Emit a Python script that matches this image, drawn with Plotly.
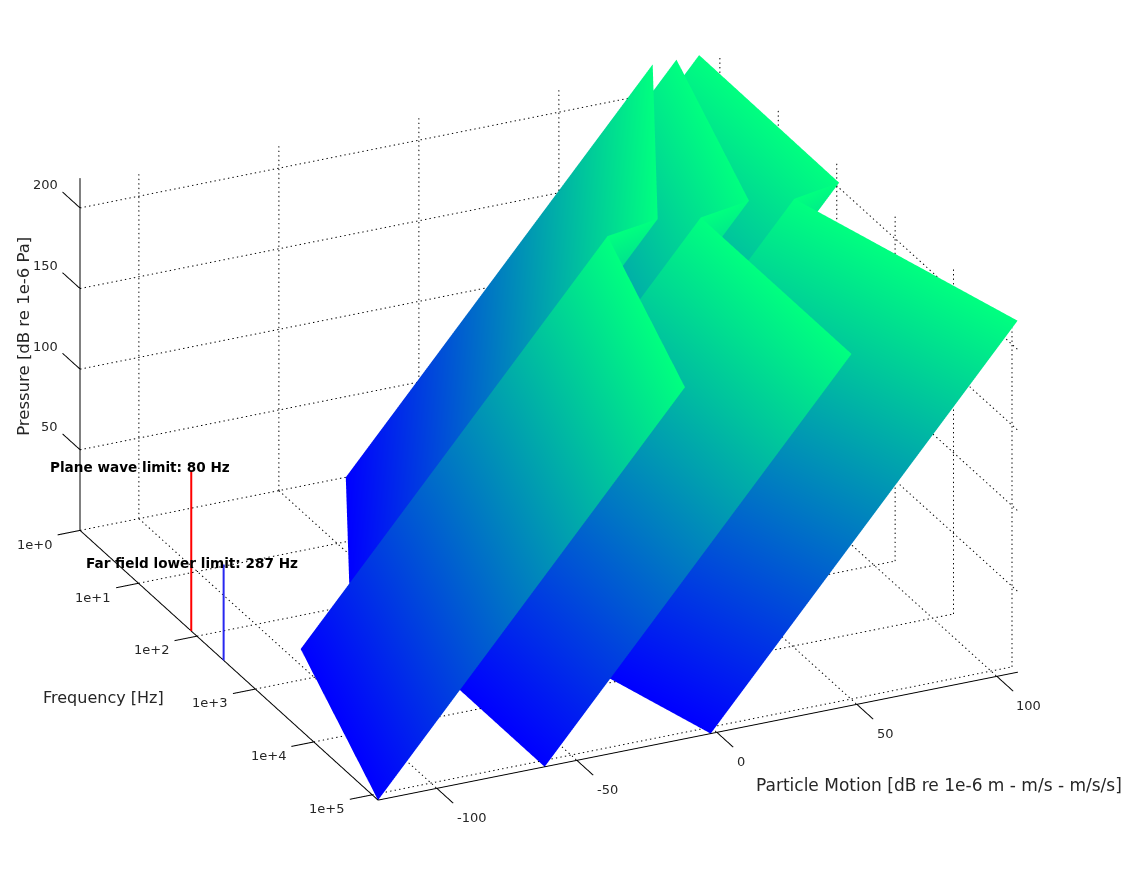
import plotly.graph_objects as go

# log10(frequency) knots of every surface
freq_log = [5.1, 2.52, 2.41, 0.0]
# particle-motion level at the low-pressure edge of each surface
disp_low = [-121.0, -94.8, -74.6, -26.1]
vel_low = [-61.5, -61.5, -42.0, -17.6]
acc_low = [-2.2, -28.1, -9.8, -9.5]
motion_span = 109.6
pressure_edge = [0.0, 218.0]

x_ticks = [-100, -50, 0, 50, 100]
x_tick_text = ["-100", "-50", "0", "50", "100"]
y_ticks = [0, 1, 2, 3, 4, 5]
y_tick_text = ["1e+0", "1e+1", "1e+2", "1e+3", "1e+4", "1e+5"]
z_ticks = [50, 100, 150, 200]
z_tick_text = ["50", "100", "150", "200"]

x_lo, x_hi = -121.0, 107.5
y_lo, y_hi = 0.0, 5.1
z_hi = 218.5
z_grid_top = 215.0

plane_wave_log = 1.903   # 80 Hz
plane_wave_top = 99.5
far_field_log = 2.458    # 287 Hz
far_field_top = 59.5

winter = [[0, "rgb(0,0,255)"], [1, "rgb(0,255,128)"]]
FONT = "DejaVu Sans"
TXT = "#262626"
ZOOM = 1.746

fig = go.Figure()

neg = lambda v: -v
ys = [neg(v) for v in freq_log]
for name, low in (("displacement", disp_low), ("velocity", vel_low), ("acceleration", acc_low)):
    fig.add_trace(go.Surface(
        name=name,
        x=[low, [v + motion_span for v in low]],
        y=[ys, ys],
        z=[[pressure_edge[0]] * 4, [pressure_edge[1]] * 4],
        colorscale=winter, cmin=pressure_edge[0], cmax=pressure_edge[1],
        showscale=False, hoverinfo="skip",
        lighting=dict(ambient=1, diffuse=0, specular=0, roughness=1, fresnel=0),
        contours=dict(x=dict(highlight=False), y=dict(highlight=False), z=dict(highlight=False)),
    ))


def segs(items):
    X, Y, Z = [], [], []
    for (a, b) in items:
        X += [a[0], b[0], None]
        Y += [neg(a[1]), neg(b[1]), None]
        Z += [a[2], b[2], None]
    return X, Y, Z


def dotted(a, b, step):
    """Chop a grid line into short pieces; step is the gap in axis units."""
    axis = [i for i in range(3) if a[i] != b[i]][0]
    out = []
    v = a[axis]
    while v < b[axis]:
        p = list(a)
        q = list(a)
        p[axis] = v
        q[axis] = v + step * 0.3
        out.append((tuple(p), tuple(q)))
        v += step
    return out


X_STEP, Y_STEP, Z_STEP = 1.6, 0.057, 2.8
grid = []
for v in x_ticks:
    grid += dotted((v, y_lo, 0), (v, y_lo, z_grid_top), Z_STEP)
    grid += dotted((v, y_lo, 0), (v, y_hi, 0), Y_STEP)
for v in y_ticks:
    grid += dotted((x_lo, v, 0), (x_hi, v, 0), X_STEP)
    grid += dotted((x_hi, v, 0), (x_hi, v, z_grid_top), Z_STEP)
for v in z_ticks:
    grid += dotted((x_lo, y_lo, v), (x_hi, y_lo, v), X_STEP)
    grid += dotted((x_hi, y_lo, v), (x_hi, y_hi, v), Y_STEP)
X, Y, Z = segs(grid)
fig.add_trace(go.Scatter3d(x=X, y=Y, z=Z, mode="lines", hoverinfo="skip",
                           line=dict(color="black", width=2)))

axes = [((x_lo, y_lo, 0), (x_lo, y_lo, z_hi)),
        ((x_lo, y_lo, 0), (x_lo, y_hi, 0)),
        ((x_lo, y_hi, 0), (x_hi, y_hi, 0))]
for v in x_ticks:
    axes.append(((v, y_hi, 0), (v, y_hi + 0.28, 0)))
for v in y_ticks:
    axes.append(((x_lo, v, 0), (x_lo - 8, v, 0)))
for v in z_ticks:
    axes.append(((x_lo, y_lo, v), (x_lo, y_lo - 0.3, v)))
X, Y, Z = segs(axes)
fig.add_trace(go.Scatter3d(x=X, y=Y, z=Z, mode="lines", hoverinfo="skip",
                           line=dict(color="black", width=2)))

for lg, top, col in ((plane_wave_log, plane_wave_top, "rgb(255,0,0)"),
                     (far_field_log, far_field_top, "rgb(40,40,240)")):
    fig.add_trace(go.Scatter3d(x=[x_lo, x_lo], y=[neg(lg), neg(lg)], z=[0, top], mode="lines",
                               hoverinfo="skip", line=dict(color=col, width=4)))

ann = []


def note(x, y, z, text, dx, dy, anchor="center", size=13, angle=0, bold=False):
    ann.append(dict(x=x, y=neg(y), z=z, text=f"<b>{text}</b>" if bold else text, showarrow=False,
                    xanchor=anchor, yanchor="middle", xshift=dx, yshift=dy, textangle=angle,
                    font=dict(family=FONT, size=size, color="black" if bold else TXT)))


for v, t in zip(x_ticks, x_tick_text):
    note(v, 5.1, 0, t, 18, -29, "left")
for v, t in zip(y_ticks, y_tick_text):
    note(x_lo, v, 0, t, -26, -14, "right")
for v, t in zip(z_ticks, z_tick_text):
    note(x_lo, y_lo, v, t, -20, 23, "right")
note(x_lo, y_lo, 125, "Pressure [dB re 1e-6 Pa]", -56, -8, size=16.5, angle=-90)
note(x_lo, 2.5, 0, "Frequency [Hz]", -123, -35, size=16)
note(50, 5.1, 0, "Particle Motion [dB re 1e-6 m - m/s - m/s/s]", 82, -81, size=17)
note(x_lo, plane_wave_log, plane_wave_top, "Plane wave limit: 80 Hz", -51, 3, size=13.6, bold=True)
note(x_lo, far_field_log, far_field_top, "Far field lower limit: 287 Hz", -32, 1, size=13.6, bold=True)

hidden = dict(visible=False, showgrid=False, zeroline=False, showspikes=False)
fig.update_layout(
    width=1127, height=882, margin=dict(l=0, r=0, t=0, b=0),
    paper_bgcolor="white", showlegend=False,
    scene=dict(
        domain=dict(x=[0, 0.9526], y=[0.0377, 0.9977]),
        xaxis=dict(range=[-130, 109], **hidden),
        yaxis=dict(range=[-5.4, 0.35], **hidden),
        zaxis=dict(range=[-1, 220], **hidden),
        aspectmode="manual",
        aspectratio=dict(x=1 * ZOOM, y=1.068 * ZOOM, z=0.5325 * ZOOM),
        camera=dict(projection=dict(type="orthographic"),
                    up=dict(x=0, y=0, z=1), center=dict(x=0, y=0, z=0),
                    eye=dict(x=-0.385 * 2, y=-0.819 * 2, z=0.4255 * 2)),
        annotations=ann,
    ),
)
fig.write_html("out.html", config=dict(displayModeBar=False),
               post_script="document.body.style.margin='0';")
